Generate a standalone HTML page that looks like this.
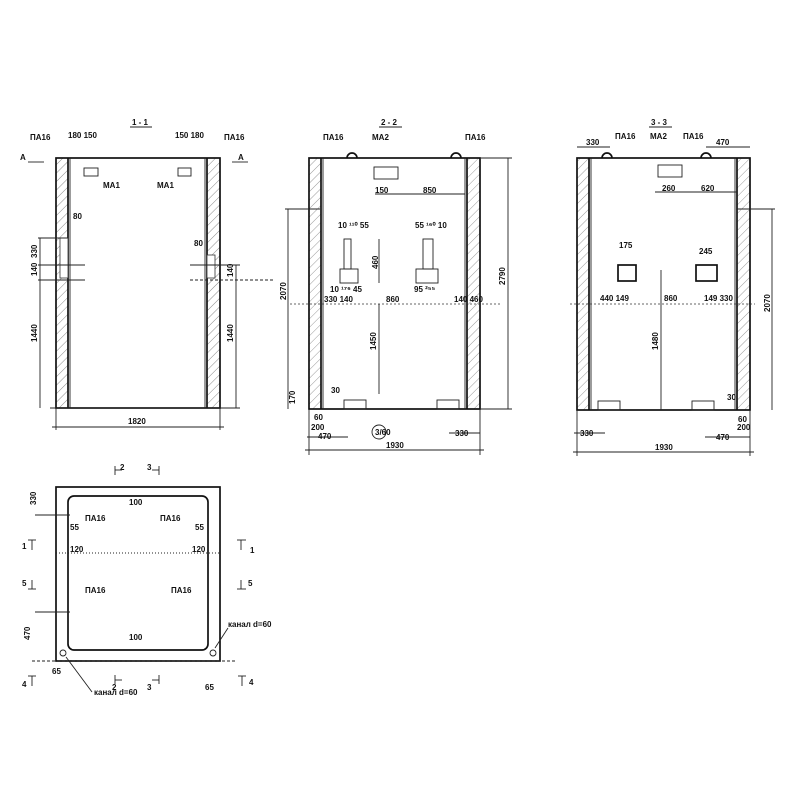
<!DOCTYPE html>
<html><head><meta charset="utf-8"><style>
html,body{margin:0;padding:0;background:#fff;}
svg{display:block;}
text{font-family:"Liberation Sans",sans-serif;font-size:8px;fill:#111;font-weight:600;}
.s{stroke:#111;fill:none;stroke-width:1.7;}
.t{stroke:#222;fill:none;stroke-width:0.9;}
.d{stroke:#333;fill:none;stroke-width:0.8;stroke-dasharray:2,2;}
</style></head><body>
<svg width="800" height="800" viewBox="0 0 800 800" xmlns="http://www.w3.org/2000/svg">
<defs>
<pattern id="h" width="6" height="6" patternUnits="userSpaceOnUse" patternTransform="rotate(45)">
<line x1="0" y1="0" x2="0" y2="6" stroke="#444" stroke-width="0.9"/></pattern>
</defs>

<!-- ===== 1-1 ===== -->
<text x="132" y="125" font-size="10">1 - 1</text>
<line class="t" x1="130" y1="127" x2="152" y2="127"/>
<rect x="56" y="158" width="12" height="250" fill="url(#h)" opacity="0.7"/>
<rect x="207" y="158" width="13" height="250" fill="url(#h)" opacity="0.7"/>
<rect class="s" x="56" y="158" width="164" height="250"/>
<line class="s" x1="68" y1="158" x2="68" y2="408"/>
<line class="t" x1="70" y1="158" x2="70" y2="408"/>
<line class="s" x1="207" y1="158" x2="207" y2="408"/>
<line class="t" x1="205" y1="158" x2="205" y2="408"/>
<rect x="60" y="238" width="8" height="40" fill="#fff" stroke="#333" stroke-width="0.8"/>
<rect x="207" y="255" width="8" height="23" fill="#fff" stroke="#333" stroke-width="0.8"/>
<rect class="t" x="84" y="168" width="14" height="8"/>
<rect class="t" x="178" y="168" width="13" height="8"/>
<text x="30" y="140" font-size="7">ПА16</text><text x="224" y="140" font-size="7">ПА16</text>
<text x="68" y="138" font-size="7">180 150</text><text x="175" y="138" font-size="7">150 180</text>
<text x="20" y="160" font-size="8">А</text><text x="238" y="160" font-size="8">А</text>
<line class="t" x1="28" y1="162" x2="44" y2="162"/><line class="t" x1="232" y1="162" x2="248" y2="162"/>
<text x="103" y="188" font-size="7">МА1</text><text x="157" y="188" font-size="7">МА1</text>
<text x="73" y="219" font-size="7">80</text><text x="194" y="246" font-size="7">80</text>
<line class="t" x1="38" y1="238" x2="68" y2="238"/>
<line class="t" x1="38" y1="265" x2="85" y2="265"/>
<line class="t" x1="38" y1="280" x2="85" y2="280"/>
<line class="t" x1="40" y1="238" x2="40" y2="408"/>
<line class="t" x1="236" y1="265" x2="236" y2="408"/>
<line class="t" x1="190" y1="265" x2="240" y2="265"/>
<line class="t" x1="190" y1="280" x2="275" y2="280" stroke-dasharray="3,2"/>
<text transform="translate(37,258) rotate(-90)" font-size="8">330</text>
<text transform="translate(37,276) rotate(-90)" font-size="7">140</text>
<text transform="translate(37,342) rotate(-90)" font-size="9">1440</text>
<text transform="translate(233,342) rotate(-90)" font-size="9">1440</text>
<text transform="translate(233,277) rotate(-90)" font-size="7">140</text>
<line class="t" x1="50" y1="408" x2="240" y2="408"/>
<line class="t" x1="56" y1="408" x2="56" y2="430"/><line class="t" x1="220" y1="408" x2="220" y2="430"/>
<line class="t" x1="52" y1="427" x2="224" y2="427"/>
<text x="128" y="424" font-size="9">1820</text>

<!-- ===== 2-2 ===== -->
<text x="381" y="125" font-size="10">2 - 2</text>
<line class="t" x1="379" y1="127" x2="402" y2="127"/>
<rect x="309" y="158" width="12" height="251" fill="url(#h)" opacity="0.6"/>
<rect x="467" y="158" width="13" height="251" fill="url(#h)" opacity="0.6"/>
<rect class="s" x="309" y="158" width="171" height="251"/>
<line class="s" x1="321" y1="158" x2="321" y2="409"/><line class="t" x1="323" y1="158" x2="323" y2="409"/>
<line class="s" x1="467" y1="158" x2="467" y2="409"/><line class="t" x1="465" y1="158" x2="465" y2="409"/>
<path class="s" d="M347 158 a5 5 0 0 1 10 0"/><path class="s" d="M451 158 a5 5 0 0 1 10 0"/>
<text x="323" y="140" font-size="7">ПА16</text><text x="372" y="140" font-size="7">МА2</text><text x="465" y="140" font-size="7">ПА16</text>
<rect class="t" x="374" y="167" width="24" height="12"/>
<text x="375" y="193" font-size="8">150</text><text x="423" y="193" font-size="8">850</text>
<line class="t" x1="375" y1="194" x2="465" y2="194"/>
<line class="t" x1="285" y1="209" x2="320" y2="209"/>
<line class="t" x1="288" y1="209" x2="288" y2="409"/>
<text transform="translate(286,300) rotate(-90)" font-size="8">2070</text>
<rect class="t" x="344" y="239" width="7" height="30"/><rect class="t" x="340" y="269" width="18" height="14"/>
<rect class="t" x="423" y="239" width="10" height="30"/><rect class="t" x="416" y="269" width="22" height="14"/>
<text x="338" y="228" font-size="6">10 ¹¹⁰ 55</text><text x="415" y="228" font-size="6">55 ¹⁶⁰ 10</text>
<text x="371" y="262" font-size="7" transform="rotate(-90 378 262)">460</text>
<line class="t" x1="379" y1="239" x2="379" y2="283"/>
<text x="330" y="292" font-size="6">10 ¹⁷⁶ 45</text><text x="414" y="292" font-size="6">95 ²⁵⁵</text>
<line class="d" x1="290" y1="304" x2="500" y2="304"/>
<text x="324" y="302" font-size="7">330 140</text><text x="386" y="302" font-size="8">860</text><text x="454" y="302" font-size="7">140 460</text>
<line class="t" x1="379" y1="304" x2="379" y2="394"/>
<text transform="translate(376,350) rotate(-90)" font-size="8">1450</text>
<line class="t" x1="480" y1="158" x2="512" y2="158"/><line class="t" x1="480" y1="409" x2="512" y2="409"/>
<line class="t" x1="508" y1="158" x2="508" y2="409"/>
<text transform="translate(505,285) rotate(-90)" font-size="8">2790</text>
<rect class="t" x="344" y="400" width="22" height="9"/><rect class="t" x="437" y="400" width="22" height="9"/>
<circle class="t" cx="379" cy="432" r="7"/><text x="375" y="435" font-size="6">3/60</text>
<text x="286" y="405" font-size="7" transform="rotate(-90 290 400)">170</text>
<text x="331" y="393" font-size="7">30</text>
<text x="314" y="420" font-size="7">60</text><text x="311" y="430" font-size="7">200</text>
<line class="t" x1="307" y1="437" x2="348" y2="437"/><text x="318" y="439" font-size="8">470</text>
<line class="t" x1="449" y1="433" x2="480" y2="433"/><text x="455" y="436" font-size="8">330</text>
<line class="t" x1="305" y1="450" x2="484" y2="450"/><text x="386" y="448" font-size="9">1930</text>
<line class="t" x1="309" y1="409" x2="309" y2="455"/><line class="t" x1="480" y1="409" x2="480" y2="455"/>

<!-- ===== 3-3 ===== -->
<text x="651" y="125" font-size="10">3 - 3</text>
<line class="t" x1="649" y1="127" x2="672" y2="127"/>
<rect x="577" y="158" width="12" height="252" fill="url(#h)" opacity="0.6"/>
<rect x="737" y="158" width="13" height="252" fill="url(#h)" opacity="0.6"/>
<rect class="s" x="577" y="158" width="173" height="252"/>
<line class="s" x1="589" y1="158" x2="589" y2="410"/><line class="t" x1="591" y1="158" x2="591" y2="410"/>
<line class="s" x1="737" y1="158" x2="737" y2="410"/><line class="t" x1="735" y1="158" x2="735" y2="410"/>
<path class="s" d="M602 158 a5 5 0 0 1 10 0"/><path class="s" d="M701 158 a5 5 0 0 1 10 0"/>
<text x="586" y="145" font-size="7">330</text><text x="615" y="139" font-size="7">ПА16</text><text x="650" y="139" font-size="7">МА2</text><text x="683" y="139" font-size="7">ПА16</text><text x="716" y="145" font-size="7">470</text>
<line class="t" x1="577" y1="147" x2="610" y2="147"/><line class="t" x1="706" y1="147" x2="750" y2="147"/>
<rect class="t" x="658" y="165" width="24" height="12" fill="url(#h)"/>
<text x="662" y="191" font-size="8">260</text><text x="701" y="191" font-size="8">620</text>
<line class="t" x1="655" y1="192" x2="737" y2="192"/>
<rect class="s" x="618" y="265" width="18" height="16"/><rect class="s" x="696" y="265" width="21" height="16"/>
<text x="619" y="248" font-size="7">175</text><text x="699" y="254" font-size="7">245</text>
<text x="600" y="301" font-size="7">440 149</text><text x="664" y="301" font-size="8">860</text><text x="704" y="301" font-size="7">149 330</text>
<line class="d" x1="570" y1="304" x2="755" y2="304"/>
<line class="t" x1="661" y1="270" x2="661" y2="410"/>
<text transform="translate(658,350) rotate(-90)" font-size="8">1480</text>
<line class="t" x1="737" y1="209" x2="775" y2="209"/>
<line class="t" x1="772" y1="209" x2="772" y2="410"/>
<text transform="translate(770,312) rotate(-90)" font-size="8">2070</text>
<rect class="t" x="598" y="401" width="22" height="9"/><rect class="t" x="692" y="401" width="22" height="9"/>
<text x="727" y="400" font-size="7">30</text><text x="738" y="422" font-size="7">60</text><text x="737" y="430" font-size="7">200</text>
<line class="t" x1="705" y1="437" x2="750" y2="437"/><text x="716" y="440" font-size="8">470</text>
<line class="t" x1="574" y1="433" x2="605" y2="433"/><text x="580" y="436" font-size="8">330</text>
<line class="t" x1="573" y1="452" x2="754" y2="452"/><text x="655" y="450" font-size="9">1930</text>
<line class="t" x1="577" y1="410" x2="577" y2="456"/><line class="t" x1="750" y1="410" x2="750" y2="456"/>

<!-- ===== Plan ===== -->
<rect class="s" x="56" y="487" width="164" height="174"/>
<rect class="s" x="68" y="496" width="140" height="154" rx="6"/>
<text x="120" y="470" font-size="8">2</text><line class="t" x1="115" y1="466" x2="115" y2="475"/><line class="t" x1="115" y1="470" x2="122" y2="470"/>
<text x="147" y="470" font-size="8">3</text><line class="t" x1="159" y1="466" x2="159" y2="475"/><line class="t" x1="152" y1="470" x2="159" y2="470"/>
<text x="112" y="690" font-size="8">2</text><line class="t" x1="115" y1="675" x2="115" y2="684"/><line class="t" x1="115" y1="680" x2="122" y2="680"/>
<text x="147" y="690" font-size="8">3</text><line class="t" x1="159" y1="675" x2="159" y2="684"/><line class="t" x1="152" y1="680" x2="159" y2="680"/>
<text x="22" y="549" font-size="8">1</text><line class="t" x1="28" y1="540" x2="36" y2="540"/><line class="t" x1="32" y1="540" x2="32" y2="550"/>
<text x="250" y="553" font-size="8">1</text><line class="t" x1="237" y1="540" x2="246" y2="540"/><line class="t" x1="241" y1="540" x2="241" y2="550"/>
<text x="22" y="586" font-size="8">5</text><line class="t" x1="28" y1="589" x2="36" y2="589"/><line class="t" x1="32" y1="580" x2="32" y2="589"/>
<text x="248" y="586" font-size="8">5</text><line class="t" x1="237" y1="589" x2="246" y2="589"/><line class="t" x1="241" y1="580" x2="241" y2="589"/>
<text x="22" y="687" font-size="8">4</text><line class="t" x1="28" y1="676" x2="36" y2="676"/><line class="t" x1="32" y1="676" x2="32" y2="686"/>
<text x="249" y="685" font-size="8">4</text><line class="t" x1="238" y1="676" x2="246" y2="676"/><line class="t" x1="242" y1="676" x2="242" y2="686"/>
<text x="85" y="521" font-size="7">ПА16</text><text x="160" y="521" font-size="7">ПА16</text>
<text x="85" y="593" font-size="7">ПА16</text><text x="171" y="593" font-size="7">ПА16</text>
<text x="70" y="530" font-size="7">55</text><text x="195" y="530" font-size="7">55</text>
<text x="70" y="552" font-size="7">120</text><text x="192" y="552" font-size="7">120</text>
<line class="t" x1="56" y1="553" x2="220" y2="553" stroke-dasharray="1,2"/>
<line class="t" x1="35" y1="515" x2="70" y2="515"/><line class="t" x1="35" y1="612" x2="70" y2="612"/>
<text transform="translate(36,505) rotate(-90)" font-size="7">330</text>
<text transform="translate(30,640) rotate(-90)" font-size="7">470</text>
<text x="129" y="640" font-size="7">100</text><text x="129" y="505" font-size="7">100</text>
<circle class="t" cx="63" cy="653" r="3"/><circle class="t" cx="213" cy="653" r="3"/>
<line class="t" x1="32" y1="661" x2="235" y2="661" stroke-dasharray="3,2"/>
<text x="228" y="627" font-size="6">канал d=60</text><line class="t" x1="215" y1="648" x2="228" y2="628"/>
<text x="94" y="695" font-size="6">канал d=60</text><line class="t" x1="66" y1="657" x2="92" y2="692"/>
<text x="52" y="674" font-size="7">65</text><text x="205" y="690" font-size="7">65</text>
</svg>
</body></html>
